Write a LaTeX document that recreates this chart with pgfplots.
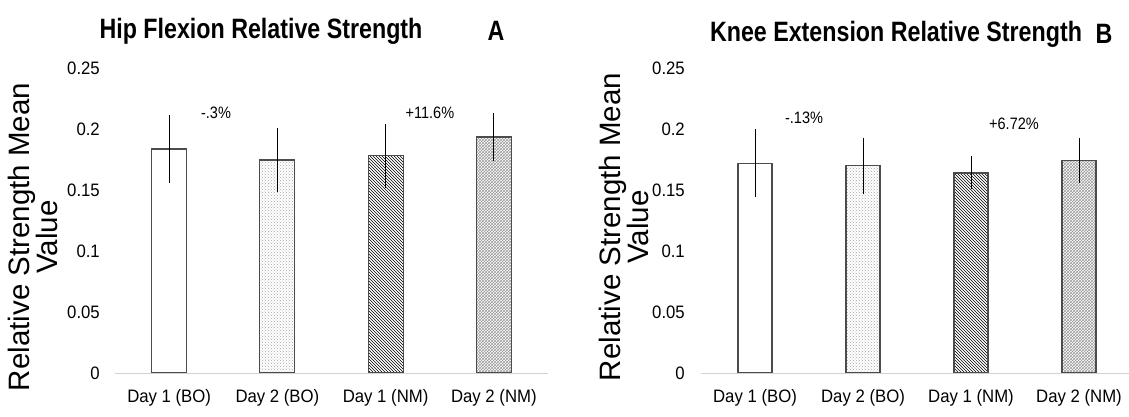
\documentclass[border=0pt]{standalone}
\usepackage{fontspec}
\setmainfont{Liberation Sans}
\newfontfamily\narrowfont[FakeStretch=0.88]{Liberation Sans}
\newfontfamily\catfont[FakeStretch=0.93]{Liberation Sans}
\newfontfamily\titlefont[FakeStretch=0.83]{Liberation Sans}
\usepackage{pgfplots}
\pgfplotsset{compat=1.18}
\usetikzlibrary{patterns}
\newcommand{\tickfont}{\catfont\fontsize{18}{18}\selectfont}
\newcommand{\annfont}{\narrowfont\fontsize{16.5}{17}\selectfont}
\newcommand{\ttlfont}{\titlefont\bfseries\fontsize{28}{29}\selectfont}
\newcommand{\ylabfont}{\fontsize{29.5}{20}\selectfont}
\pgfplotsset{bstyle/.style={
  scale only axis, height=305pt,
  ymin=0, ymax=0.25, xmin=-0.5, xmax=3.5,
  ytick={0,0.05,0.1,0.15,0.2,0.25},
  yticklabels={0,0.05,0.1,0.15,0.2,0.25},
  xtick={0,1,2,3},
  xticklabels={Day 1 (BO),Day 2 (BO),Day 1 (NM),Day 2 (NM)},
  axis line style={draw=none}, major tick length=0pt,
  ticklabel style={font=\tickfont, inner sep=0pt},
  yticklabel style={anchor=east},
  xticklabel style={anchor=north, yshift=-16pt},
  ybar, bar shift=0pt, clip=false,
  every axis plot/.append style={draw=black!70, line width=1.2pt,
    error bars/y dir=both, error bars/y explicit,
    error bars/error bar style={black, line width=1pt},
    error bars/error mark options={black, mark size=1.2pt, line width=1pt}},
}}
\begin{document}
\begin{tikzpicture}
\useasboundingbox (0,0) rectangle (1129pt,416pt);
% ---------- A ----------
\begin{axis}[bstyle, width=433pt, bar width=35pt, at={(115pt,43pt)}, anchor=south west,
  yticklabel style={xshift=-15pt}]
\addplot[fill=white] coordinates {(0,0.1836) +- (0,0.0265)};
\addplot[pattern=crosshatch dots, pattern color=gray!70] coordinates {(1,0.1746) +- (0,0.0255)};
\addplot[pattern=north west lines, pattern color=black] coordinates {(2,0.178) +- (0,0.0253)};
\addplot[pattern=crosshatch, pattern color=gray!80] coordinates {(3,0.1934) +- (0,0.0185)};
\draw[gray!35, line width=1pt] (axis cs:-0.5,0) -- (axis cs:3.5,0);
\node[font=\annfont] at (axis cs:0.433,0.213) {-.3\%};
\node[font=\annfont] at (axis cs:2.409,0.213) {+11.6\%};
\end{axis}
% ---------- B ----------
\begin{axis}[bstyle, width=432pt, bar width=34pt, at={(701pt,43pt)}, anchor=south west,
  yticklabel style={xshift=-16pt}]
\addplot[fill=white] coordinates {(0,0.172) +- (0,0.027)};
\addplot[pattern=crosshatch dots, pattern color=gray!70] coordinates {(1,0.170) +- (0,0.022)};
\addplot[pattern=north west lines, pattern color=black] coordinates {(2,0.164) +- (0,0.0125)};
\addplot[pattern=crosshatch, pattern color=gray!80] coordinates {(3,0.174) +- (0,0.0175)};
\draw[gray!35, line width=1pt] (axis cs:-0.5,0) -- (axis cs:3.5,0);
\node[font=\annfont] at (axis cs:0.454,0.209) {-.13\%};
\node[font=\annfont] at (axis cs:2.398,0.204) {+6.72\%};
\end{axis}
% titles
\node[font=\ttlfont, inner sep=0pt] at (261pt,385pt) {Hip Flexion Relative Strength};
\node[font=\ttlfont, inner sep=0pt] at (496pt,385pt) {A};
\node[font=\ttlfont, inner sep=0pt] at (896pt,382pt) {Knee Extension Relative Strength};
\node[font=\ttlfont, inner sep=0pt] at (1104pt,382pt) {B};
% y labels
\node[font=\ylabfont, rotate=90, align=center, inner sep=0pt] at (33pt,179pt) {Relative Strength Mean\\Value};
\node[font=\ylabfont, rotate=90, align=center, inner sep=0pt] at (624pt,189pt) {Relative Strength Mean\\Value};
\end{tikzpicture}
\end{document}
